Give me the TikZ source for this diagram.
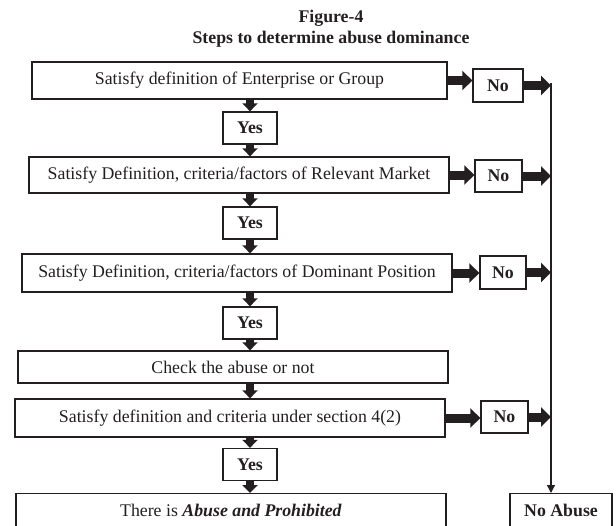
\documentclass[tikz,border=0pt]{standalone}
\usepackage{fontspec}
\setmainfont{Liberation Serif}
\usetikzlibrary{arrows.meta}
\definecolor{ink}{HTML}{231F20}
\begin{document}
\begin{tikzpicture}[x=1pt,y=-1pt,
  every node/.style={font=\fontsize{17.8}{20}\selectfont, text=ink},
  stepbox/.style={draw=ink, line width=1.3pt, inner sep=0pt},
  answer/.style={stepbox, font=\fontsize{17.8}{20}\selectfont\bfseries},
  headline/.style={font=\fontsize{17.8}{20}\selectfont\bfseries},
  fatright/.style={draw=ink, line width=9pt, -{Triangle[width=19pt,length=10pt]}},
  fatdown/.style={draw=ink, line width=8pt, -{Triangle[width=15pt,length=8pt]}},
  thin/.style={draw=ink, line width=1.3pt, -{Triangle[width=8pt,length=8pt]}}]
\useasboundingbox (0,0) rectangle (616,525);
\clip (0,0) rectangle (616,525);

% title
\node[headline] (fig) at (331,18) {Figure-4};
\node[headline] (title) at (331,39) {Steps to determine abuse dominance};

% main column of steps
\node[stepbox, minimum width=415pt, minimum height=37pt] (s1) at (239.5,80.5) {Satisfy definition of Enterprise or Group};
\node[stepbox, minimum width=420pt, minimum height=36pt] (s2) at (239,175) {Satisfy Definition, criteria/factors of Relevant Market};
\node[stepbox, minimum width=430pt, minimum height=38pt] (s3) at (237,273) {Satisfy Definition, criteria/factors of Dominant Position};
\node[stepbox, minimum width=430pt, minimum height=32pt] (s4) at (233,367) {Check the abuse or not};
\node[stepbox, minimum width=430pt, minimum height=38pt] (s5) at (230,418) {Satisfy definition and criteria under section 4(2)};
\node[stepbox, anchor=north, minimum width=430pt, inner ysep=2pt, text height=21pt, text depth=22pt] (s6) at (231,493) {There is \textbf{\textit{Abuse and Prohibited}}};

% yes boxes
\node[answer, minimum width=54pt, minimum height=32pt] (y1) at (250,128) {Yes};
\node[answer, minimum width=54pt, minimum height=32pt] (y2) at (250,223) {Yes};
\node[answer, minimum width=54pt, minimum height=32pt] (y3) at (250,323) {Yes};
\node[answer, minimum width=54pt, minimum height=32pt] (y4) at (250,464.5) {Yes};

% no boxes
\node[answer, minimum width=50pt, minimum height=33pt] (n1) at (498,85.5) {No};
\node[answer, minimum width=47pt, minimum height=32pt] (n2) at (498.5,176) {No};
\node[answer, minimum width=46pt, minimum height=33pt] (n3) at (503,272.5) {No};
\node[answer, minimum width=47pt, minimum height=32pt] (n4) at (504.5,417) {No};
\node[answer, anchor=north, minimum width=102pt, inner ysep=2pt, text height=21pt, text depth=22pt] (na) at (561,493) {No Abuse};

% collecting line
\coordinate (bus) at (551,83);

% downward flow
\draw[fatdown] (y1.north |- s1.south) -- (y1.north);
\draw[fatdown] (y1.south) -- (y1.south |- s2.north);
\draw[fatdown] (y2.north |- s2.south) -- (y2.north);
\draw[fatdown] (y2.south) -- (y2.south |- s3.north);
\draw[fatdown] (y3.north |- s3.south) -- (y3.north);
\draw[fatdown] (y3.south) -- (y3.south |- s4.north);
\draw[fatdown] (y3.south |- s4.south) -- (y3.south |- s5.north);
\draw[fatdown] (y4.north |- s5.south) -- (y4.north);
\draw[fatdown] (y4.south) -- (y4.south |- s6.north);

% branches to "No"
\draw[fatright] (s1.east) -- (s1.east -| n1.west);
\draw[fatright] (s2.east) -- (s2.east -| n2.west);
\draw[fatright] (s3.east) -- (s3.east -| n3.west);
\draw[fatright] (s5.east) -- (s5.east -| n4.west);

\draw[fatright] (n1.east) -- (n1.east -| bus);
\draw[fatright] (n2.east) -- (n2.east -| bus);
\draw[fatright] (n3.east) -- (n3.east -| bus);
\draw[fatright] (n4.east) -- (n4.east -| bus);

\draw[thin] (bus) -- (bus |- na.north);
\end{tikzpicture}
\end{document}
